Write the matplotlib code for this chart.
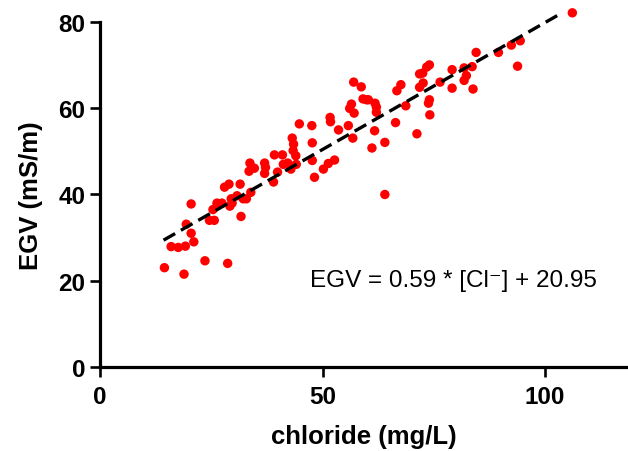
import numpy as np
import matplotlib
matplotlib.use("Agg")
import matplotlib.pyplot as plt

plt.rcParams['font.family'] = ['Liberation Sans', 'DejaVu Sans']

# chloride (mg/L) and EGV (mS/m)
chloride = [14.5, 16.0, 17.6, 19.2, 18.9, 19.4, 20.5, 20.5, 21.1, 23.6,
            24.6, 25.7, 25.4, 26.3, 27.4, 28.0, 29.0, 28.7, 29.2, 29.7,
            29.5, 30.8, 31.5, 31.7, 32.2, 32.9, 33.9, 33.5, 33.7, 34.7,
            37.0, 37.0, 37.2, 39.0, 39.2, 39.9, 41.0, 41.2, 42.2, 42.9,
            43.2, 43.5, 43.4, 44.0, 44.1, 44.8, 47.6, 47.7, 47.7, 48.2,
            50.2, 51.3, 52.7, 51.7, 51.8, 53.6, 55.8, 56.1, 56.5, 57.1,
            56.8, 57.0, 58.7, 59.1, 59.9, 60.3, 61.1, 61.7, 61.8, 62.1,
            62.1, 64.0, 64.0, 66.4, 66.7, 67.6, 68.7, 71.2, 71.8, 71.8,
            72.5, 72.6, 73.4, 74.0, 73.8, 74.0, 74.1, 76.4, 79.1, 79.1,
            81.8, 82.3, 81.8, 83.6, 83.8, 84.5, 89.5, 92.4, 94.4, 93.8,
            106.1]
egv = [23.0, 27.9, 27.7, 28.0, 21.5, 33.1, 37.8, 31.0, 29.0, 24.6,
       34.0, 34.0, 36.5, 38.0, 38.0, 41.7, 42.4, 24.0, 37.3, 38.0,
       39.0, 39.7, 42.4, 34.9, 39.0, 39.0, 40.5, 45.4, 47.3, 46.1,
       47.3, 44.9, 46.3, 42.9, 49.2, 45.2, 49.2, 47.0, 47.3, 45.9,
       53.1, 51.7, 50.2, 49.0, 47.0, 56.4, 56.0, 52.0, 47.9, 44.0,
       45.9, 47.2, 48.0, 57.9, 56.9, 55.0, 56.0, 60.0, 61.0, 58.9,
       53.1, 66.1, 65.0, 62.2, 62.0, 62.0, 50.8, 54.8, 61.2, 60.3,
       59.1, 52.1, 40.0, 56.7, 64.1, 65.5, 60.6, 54.1, 64.9, 68.0,
       68.2, 65.9, 69.6, 70.1, 61.2, 62.0, 58.5, 66.1, 69.0, 64.7,
       66.5, 67.6, 69.4, 69.7, 64.5, 73.0, 73.0, 74.7, 75.7, 69.8,
       82.2]

slope = 0.59
intercept = 20.95
fit_x = np.array([14.3, 102.7])
fit_y = slope * fit_x + intercept

fig = plt.figure(figsize=(6.28, 4.52), dpi=100)
ax = fig.add_axes([0.159, 0.1865, 0.841, 0.762])

ax.scatter(chloride, egv, s=46, color='#ff0000', edgecolors='none',
           zorder=3, clip_on=False)
ax.plot(fit_x, fit_y, color='black', lw=2.4, linestyle=(0, (4, 2)),
        zorder=4, clip_on=False)

ax.text(47.2, 18.8, 'EGV = 0.59 * [Cl\u207b] + 20.95', fontsize=17.5,
        ha='left', va='baseline')

ax.set_xlim(0, 118.6)
ax.set_ylim(0, 80)
ax.set_xticks([0, 50, 100])
ax.set_yticks([0, 20, 40, 60, 80])

for side in ['top', 'right']:
    ax.spines[side].set_visible(False)
for side in ['left', 'bottom']:
    ax.spines[side].set_linewidth(2.3)

ax.tick_params(width=1.9, length=7.5, labelsize=17.5)
ax.tick_params(axis='x', pad=6)
ax.tick_params(axis='y', pad=3)
for lab in ax.get_xticklabels() + ax.get_yticklabels():
    lab.set_fontweight('bold')

ax.set_xlabel('chloride (mg/L)', fontsize=18.5, fontweight='bold', labelpad=11)
ax.set_ylabel('EGV (mS/m)', fontsize=18.5, fontweight='bold', labelpad=11)

fig.savefig('out.png', dpi=100)
